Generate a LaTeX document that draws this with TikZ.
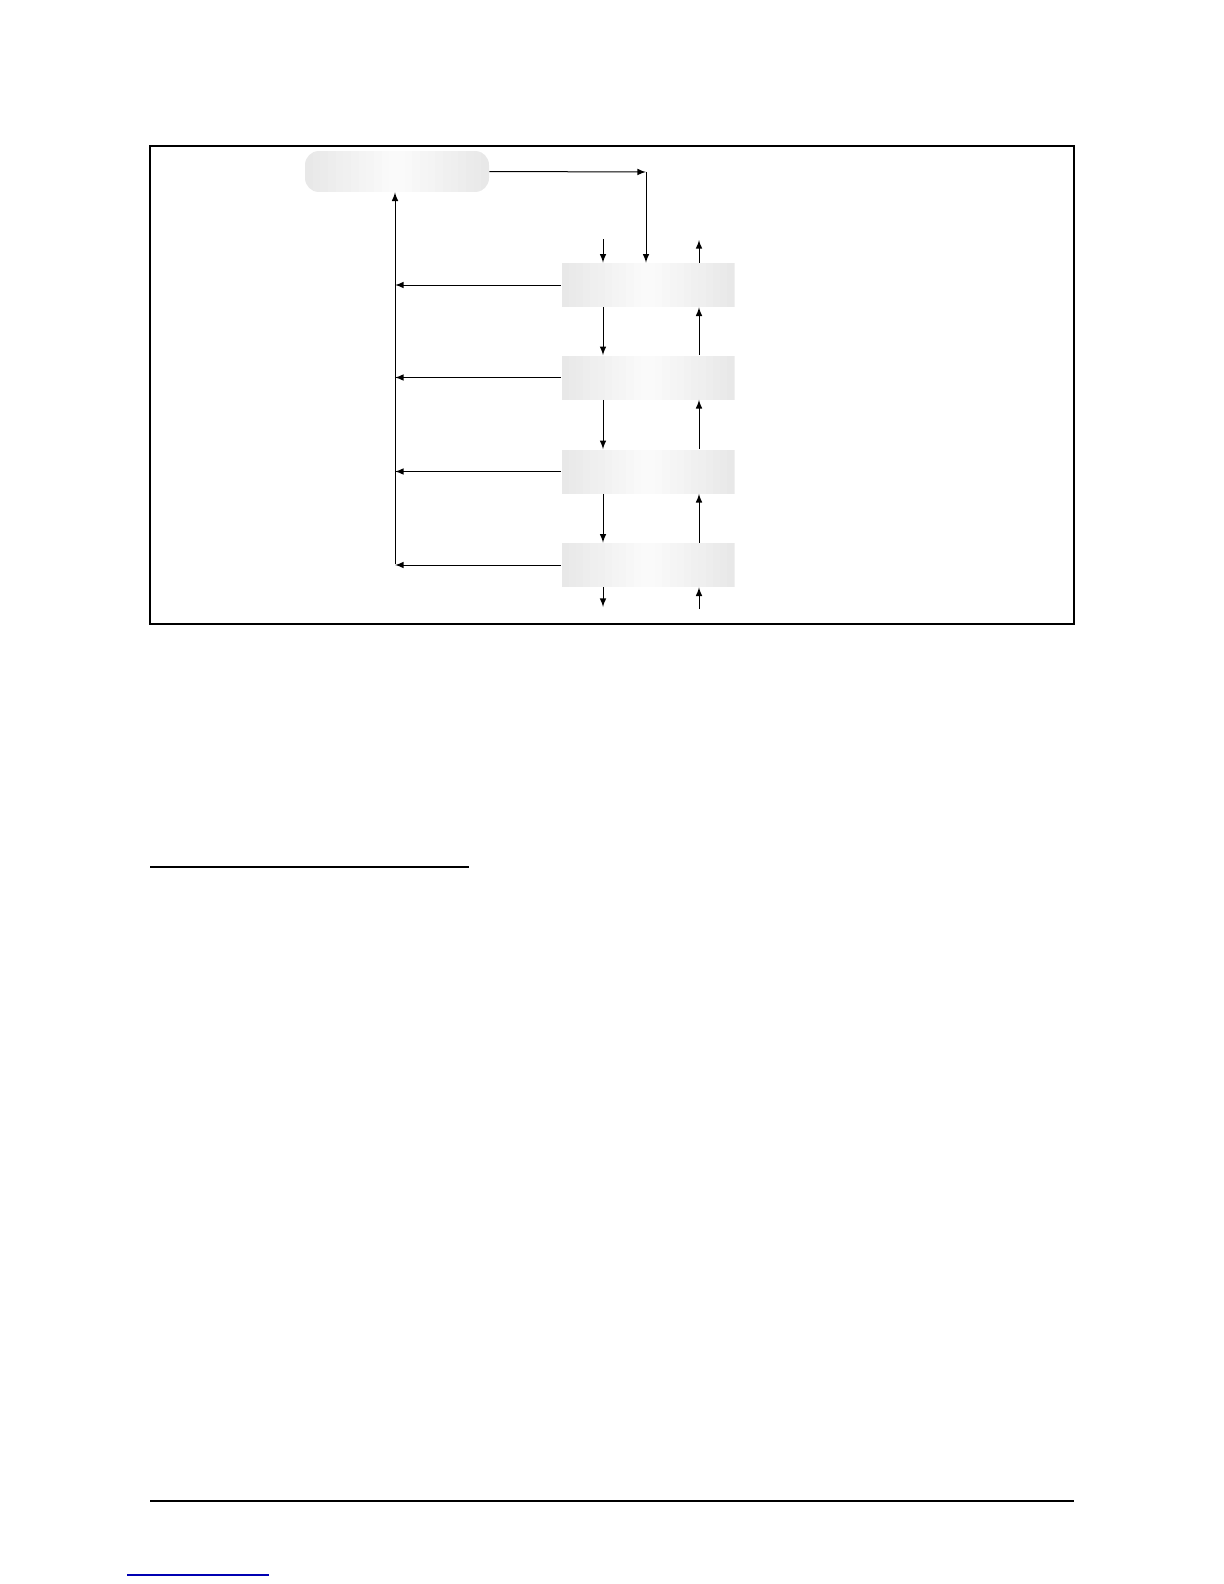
\documentclass[tikz,border=0pt]{standalone}
\usepackage{tikz}
\usetikzlibrary{calc}

\begin{document}
\begin{tikzpicture}[x=0.5pt,y=-0.5pt,
  layer/.style={minimum width=86.5pt,minimum height=22pt,inner sep=0pt,
    path picture={
      \path (path picture bounding box.south west) coordinate (pa)
            (path picture bounding box.north east) coordinate (pb);
      \foreach \i in {0,...,23} {
        \pgfmathsetmacro\sh{3+15*abs(\i-11.5)/11.5}
        \pgfmathsetmacro\fa{\i/24}
        \pgfmathsetmacro\fb{(\i+1.2)/24}
        \fill[gray!\sh,sharp corners] ($(pa)!\fa!(pa-|pb)$) rectangle ($(pa|-pb)!\fb!(pb)$);
      }}},
  mgr/.style={layer,minimum width=92pt,minimum height=20.5pt,rounded corners=7pt},
  flow/.style={-latex,line width=0.5pt}]
\useasboundingbox (0,0) rectangle (1224,1584);
% page frame and rules
\draw[line width=0.7pt] (150,146) rectangle (1074,624);
\draw[line width=1.1pt] (150,867) -- (469,867);
\draw[line width=0.6pt] (150,1501) -- (1074,1501);
\draw[blue!70!black,line width=0.6pt] (127,1575) -- (269,1575);
% boxes
\node[mgr] (top) at (397,171.5) {};
\node[layer] (s1) at (648,285) {};
\node[layer] (s2) at (648,377.5) {};
\node[layer] (s3) at (648,471.5) {};
\node[layer] (s4) at (648,565) {};
% helper points
\coordinate (c1) at (646,172);
\coordinate (bus) at (395,564);
\coordinate (dn) at (603,239);
\coordinate (up) at (699,240);
\coordinate (dnend) at (603,607);
\coordinate (upend) at (699,609);
% top to first layer
\draw[flow] (top.east) -- (c1);
\draw[flow] (c1) -- (c1 |- s1.north);
% returns to the top box
\draw[flow] (s1.west) -- (s1.west -| bus);
\draw[flow] (s2.west) -- (s2.west -| bus);
\draw[flow] (s3.west) -- (s3.west -| bus);
\draw[flow] (s4.west) -- (s4.west -| bus);
\draw[flow] (bus) -- (top.south -| bus);
% down and up between layers
\draw[flow] (dn) -- (dn |- s1.north);
\draw[flow] (up |- s1.north) -- (up);
\draw[flow] (s1.south -| dn) -- (s2.north -| dn);
\draw[flow] (s2.south -| dn) -- (s3.north -| dn);
\draw[flow] (s3.south -| dn) -- (s4.north -| dn);
\draw[flow] (s2.north -| up) -- (s1.south -| up);
\draw[flow] (s3.north -| up) -- (s2.south -| up);
\draw[flow] (s4.north -| up) -- (s3.south -| up);
\draw[flow] (s4.south -| dn) -- (dnend);
\draw[flow] (upend) -- (s4.south -| up);
\end{tikzpicture}
\end{document}
